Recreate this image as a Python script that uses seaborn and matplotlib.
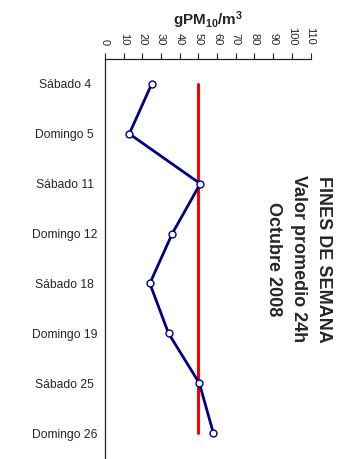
import matplotlib
matplotlib.use("Agg")
import matplotlib.pyplot as plt
import seaborn as sns
import pandas as pd
import numpy as np

# Weekend daily PM10 averages, October 2008
days = ["Sábado 4", "Domingo 5", "Sábado 11", "Domingo 12",
        "Sábado 18", "Domingo 19", "Sábado 25", "Domingo 26"]
pm10 = [25, 13, 51, 36, 24, 34, 50.5, 58]
limit = [50, 50, 50, 50, 50, 50, 50, 50]
x_ticks = [0, 10, 20, 30, 40, 50, 60, 70, 80, 90, 100, 110]
title_lines = ["FINES DE SEMANA", "Valor promedio 24h", "Octubre 2008"]

sns.set_style("white")
plt.rcParams["font.family"] = ["Liberation Sans", "DejaVu Sans"]
plt.rcParams["mathtext.fontset"] = "custom"
plt.rcParams["mathtext.bf"] = "Liberation Sans:bold"
plt.rcParams["mathtext.rm"] = "Liberation Sans"

df = pd.DataFrame({"day": days, "pos": np.arange(len(days)),
                   "pm10": pm10, "limit": limit})

W, H = 347, 459
fig = plt.figure(figsize=(W / 100, H / 100), dpi=100)
ax = fig.add_axes([105 / W, 1 / H, (310.5 - 105) / W, (458 - 59) / H])

sns.lineplot(data=df, x="limit", y="pos", orient="y", sort=False,
             color="#ff0000", linewidth=2.2, ax=ax)
sns.lineplot(data=df, x="pm10", y="pos", orient="y", sort=False,
             color="#000080", linewidth=2.0, marker="o", markersize=5,
             markerfacecolor="white", markeredgecolor="#000080",
             markeredgewidth=1.0, ax=ax)

ax.set_xlim(0, 110)
ax.set_ylim(len(days) - 0.5, -0.5)

# value axis on top, labels turned to read downwards
ax.xaxis.set_ticks_position("top")
ax.xaxis.set_label_position("top")
ax.set_xticks(x_ticks)
ax.set_xticklabels([str(v) for v in x_ticks], rotation=270, fontsize=8)
ax.tick_params(axis="x", direction="out", length=4, width=0.8,
               color="#222222", pad=6)
ax.set_xlabel(r"$\mathbf{gPM_{10}/m^3}$", fontsize=11, labelpad=1)

# category labels centred, tick marks between categories
ax.set_yticks(df["pos"])
ax.set_yticklabels(days, fontsize=8.7)
for lbl in ax.get_yticklabels():
    lbl.set_horizontalalignment("center")
ax.set_yticks(np.arange(-0.5, len(days) + 0.5, 1), minor=True)
ax.tick_params(axis="y", which="major", length=0, pad=29)
ax.tick_params(axis="y", which="minor", direction="out", length=4,
               width=0.8, color="#222222")
ax.set_ylabel("")

for side in ["right", "bottom"]:
    ax.spines[side].set_visible(False)
for side in ["left", "top"]:
    ax.spines[side].set_color("#222222")
    ax.spines[side].set_linewidth(0.9)

# three-line title, turned to read downwards, to the right of the lines
for line, xpix in zip(title_lines, [323.5, 298.5, 273.5]):
    fig.text(xpix / W, 1 - 259 / H, line, rotation=270,
             ha="center", va="center", fontsize=13, fontweight="bold")

fig.savefig("out.png", dpi=100, facecolor="white")
